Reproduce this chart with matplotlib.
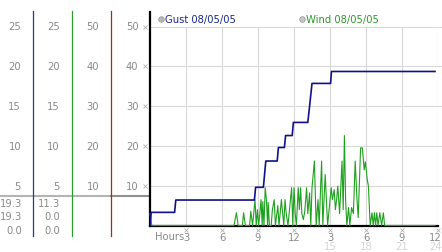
import matplotlib
matplotlib.use("Agg")
import matplotlib.pyplot as plt
from matplotlib import transforms

# ---------------- data ----------------
gust_hours = [0, 0.1, 2.05, 2.15, 8.7, 8.8, 9.45, 9.65, 10.6, 10.7, 11.2, 11.3,
              11.85, 11.95, 13.15, 13.3, 13.5, 15.05, 15.12, 23.75]
gust_vals = [0, 3.3, 3.3, 6.4, 6.4, 9.6, 9.6, 16.2, 16.2, 19.6, 19.6, 22.6,
             22.6, 25.9, 25.9, 30.0, 35.7, 35.7, 38.7, 38.7]

wind_hours = [0.0, 0.15, 7.0, 7.2, 7.35, 7.7, 7.8, 7.95, 8.3, 8.4, 8.55, 8.75, 8.85,
              8.95, 9.05, 9.15, 9.25, 9.35, 9.4, 9.5, 9.6, 9.7, 9.8, 9.85, 9.95,
              10.1, 10.2, 10.35, 10.45, 10.65, 10.75, 10.95, 11.05, 11.15, 11.25,
              11.35, 11.5, 11.8, 11.9, 12.0, 12.1, 12.2, 12.35, 12.45, 12.55, 12.65,
              12.78, 12.9, 13.05, 13.15, 13.3, 13.4, 13.5, 13.7, 13.85, 14.0, 14.1,
              14.3, 14.4, 14.6, 14.7, 14.8, 15.1, 15.2, 15.35, 15.45, 15.55, 15.65,
              15.8, 16.0, 16.1, 16.2, 16.3, 16.4, 16.55, 16.65, 16.8, 16.95, 17.1,
              17.25, 17.35, 17.55, 17.7, 17.85, 17.95, 18.1, 18.2, 18.35, 18.5,
              18.6, 18.7, 18.8, 18.9, 19.0, 19.15, 19.3, 19.45, 19.55, 23.75]
wind_vals = [3.0, 0, 0, 3.2, 0, 0, 3.2, 0, 0, 3.6, 0, 6.5, 0,
             4.0, 0, 2.8, 6.5, 0, 6.0, 0, 9.5, 6.5, 0, 5.8, 0,
             0, 4.0, 6.5, 0, 5.0, 0, 6.5, 3.2, 0, 6.5,
             3.0, 0, 9.5, 0, 9.5, 3.0, 0, 9.5, 4.0, 9.5, 3.0,
             1.5, 3.6, 9.5, 3.0, 8.2, 0, 9.5, 16.2, 0, 6.5, 0,
             16.2, 0, 12.8, 6.5, 0, 9.5, 6.5, 9.0, 4.0, 6.5, 9.9,
             3.0, 16.2, 4.0, 22.6, 6.5, 0, 4.5, 0, 4.5, 3.0, 16.2,
             6.5, 2.0, 19.5, 19.5, 14.0, 16.0, 11.6, 9.9, 0, 3.2,
             0, 3.2, 0, 3.2, 0, 3.2, 0, 3.2, 0, 0]

main_ticks = [10, 20, 30, 40, 50]
col1_labels = ["5", "10", "15", "20", "25"]
col2_labels = ["5", "10", "15", "20", "25"]
col3_labels = ["10", "20", "30", "40", "50"]
col4_labels = ["10", "20", "30", "40", "50"]
col1_values = ["19.3", "19.3", "0.0"]
col2_values = ["11.3", "0.0", "0.0"]

hour_ticks = [3, 6, 9, 12, 15, 18, 21, 24]
hour_labels = ["3", "6", "9", "12", "3", "6", "9", "12"]
hour_ticks2 = [15, 18, 21, 24]
hour_labels2 = ["15", "18", "21", "24"]

legend_names = ["Gust 08/05/05", "Wind 08/05/05"]

# ---------------- layout ----------------
W, H = 442, 253
fig = plt.figure(figsize=(W / 100, H / 100), dpi=100)
fig.patch.set_facecolor("white")

ax0 = fig.add_axes([0, 0, 1, 1])
ax0.set_xlim(0, W)
ax0.set_ylim(H, 0)
ax0.axis("off")

x0, x1 = 150, 438
y_bottom, y_top = 226.5, 13
ymax = (y_bottom - y_top) / 3.98
ax = fig.add_axes([x0 / W, (H - y_bottom) / H, (x1 - x0) / W, (y_bottom - y_top) / H])
ax.patch.set_alpha(0)
ax.set_xlim(0, 24)
ax.set_ylim(0, ymax)
for s in ["top", "right"]:
    ax.spines[s].set_visible(False)
ax.spines["left"].set_linewidth(1.6)
ax.spines["bottom"].set_linewidth(1.6)
ax.set_xticks([])
ax.set_yticks([])

grid_c = "#d8d8d8"
for v in main_ticks:
    ax.plot([0, 24.3], [v, v], color=grid_c, lw=0.8, zorder=1, clip_on=False)
for h in hour_ticks:
    ax.plot([h, h], [0, 50], color=grid_c, lw=0.8, zorder=1)

ax.plot(wind_hours, wind_vals, color="#1fa01f", lw=0.8, zorder=3, clip_on=False)
ax.plot(gust_hours, gust_vals, color="#10108a", lw=1.2, zorder=4)

gray = "#8a8a8a"
fs = 7.2

# legend
leg_y = 20
ax0.plot([160.7], [leg_y], "o", ms=4, mfc="#b8b8b8", mec="#909090", mew=0.5)
ax0.text(165, leg_y, legend_names[0], color="#1c2a8c", fontsize=fs, va="center", ha="left")
ax0.plot([301.7], [leg_y], "o", ms=4, mfc="#c8c8c8", mec="#909090", mew=0.5)
ax0.text(306, leg_y, legend_names[1], color="#2a9a2a", fontsize=fs, va="center", ha="left")

# left panel
ty = transforms.blended_transform_factory(ax0.transData, ax.transData)
for i, v in enumerate(main_ticks):
    ax0.text(21, v, col1_labels[i], transform=ty, color=gray, fontsize=fs, ha="right", va="center")
    ax0.text(60, v, col2_labels[i], transform=ty, color=gray, fontsize=fs, ha="right", va="center")
    ax0.text(99, v, col3_labels[i], transform=ty, color=gray, fontsize=fs, ha="right", va="center")
    ax0.text(138.5, v, col4_labels[i], transform=ty, color=gray, fontsize=fs, ha="right", va="center")
    ax0.plot([145], [v], marker="x", ms=2.2, mew=0.6, color="#b0b0b0", transform=ty)

for i, (a, b) in enumerate(zip(col1_values, col2_values)):
    yy = 204 + i * 13.5
    ax0.text(22, yy, a, color=gray, fontsize=fs, ha="right", va="center")
    ax0.text(60, yy, b, color=gray, fontsize=fs, ha="right", va="center")

ax0.plot([0, 111], [197, 197], color="#b4b4b4", lw=1.5)
ax0.plot([111, 149], [197, 197], color="#909090", lw=1.5)
ax0.plot([33, 33], [12, 237], color="#1e3c9a", lw=0.9)
ax0.plot([72, 72], [12, 237], color="#2e9a2e", lw=0.9)
ax0.plot([111, 111], [12, 237], color="#a82828", lw=0.9)

# hour axis labels
tx = transforms.blended_transform_factory(ax.transData, ax0.transData)
ax0.text(155, 237, "Hours", color=gray, fontsize=fs, ha="left", va="center")
for h, lab in zip(hour_ticks, hour_labels):
    ax0.plot([h], [230.5], marker="x", ms=2.2, mew=0.6, color="#b0b0b0", transform=tx, clip_on=False)
    if h == 24:
        ax0.text(441.5, 238.5, lab, color=gray, fontsize=fs, ha="right", va="center")
    else:
        ax0.text(h, 238.5, lab, transform=tx, color=gray, fontsize=fs, ha="center", va="center")
for h, lab in zip(hour_ticks2, hour_labels2):
    if h == 24:
        ax0.text(441.5, 247.5, lab, color="#d4d4d4", fontsize=fs, ha="right", va="center")
    else:
        ax0.text(h, 247.5, lab, transform=tx, color="#d4d4d4", fontsize=fs, ha="center", va="center")

fig.savefig("out.png", dpi=100)
